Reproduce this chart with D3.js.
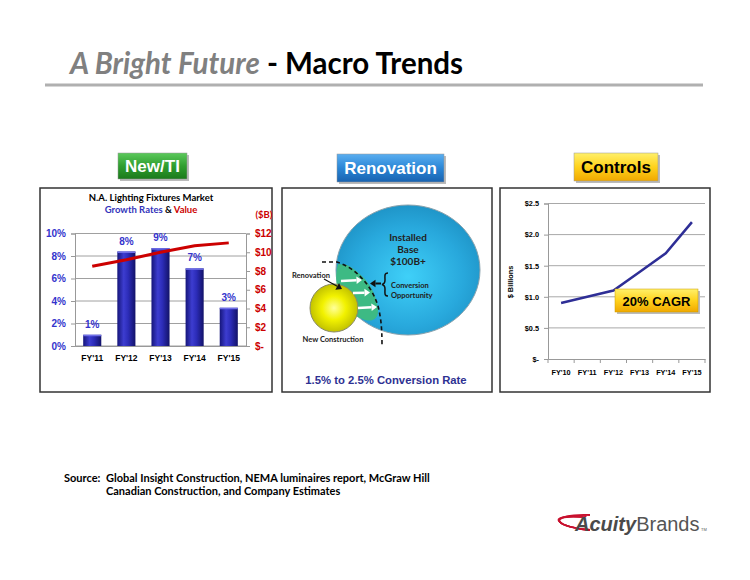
<!DOCTYPE html>
<html>
<head>
<meta charset="utf-8">
<script src="https://cdn.jsdelivr.net/npm/d3@7"></script>
<style>
  body { margin: 0; background: #fff; }
</style>
</head>
<body>
<div id="chart"></div>
<script>
// DATA ------------------------------
const fixYears = ["FY'11", "FY'12", "FY'13", "FY'14", "FY'15"];
const growthRates = [1.0, 8.4, 8.7, 6.9, 3.4];
const growthLabels = ["1%", "8%", "9%", "7%", "3%"];
const marketValue = [8.5, 9.2, 10.0, 10.7, 11.0];
const pctTicks = [0, 2, 4, 6, 8, 10];
const dollarTicks = [0, 2, 4, 6, 8, 10, 12];

const ctrlYears = ["FY'10", "FY'11", "FY'12", "FY'13", "FY'14", "FY'15"];
const ctrlValues = [0.9, 1.0, 1.1, 1.4, 1.7, 2.2];
const ctrlTicks = [0, 0.5, 1.0, 1.5, 2.0, 2.5];

const ARIAL = "'Liberation Sans', Arial, sans-serif";
const CALIBRI = "Lato, 'Open Sans', sans-serif";

const svg = d3.select('#chart').append('svg')
  .attr('width', 750).attr('height', 580)
  .style('background', '#fff');

const defs = svg.append('defs');

function linGrad(id, stops, x2, y2) {
  const g = defs.append('linearGradient').attr('id', id)
    .attr('x1', 0).attr('y1', 0).attr('x2', x2).attr('y2', y2);
  stops.forEach(s => g.append('stop').attr('offset', s[0]).attr('stop-color', s[1]));
}
function radGrad(id, stops, cx, cy) {
  const g = defs.append('radialGradient').attr('id', id)
    .attr('cx', cx || 0.5).attr('cy', cy || 0.5).attr('r', 0.55);
  stops.forEach(s => g.append('stop').attr('offset', s[0]).attr('stop-color', s[1]));
}
linGrad('gGreen', [[0, '#5cc95c'], [0.5, '#2f9e2f'], [1, '#1b7a1b']], 0, 1);
linGrad('gBlue', [[0, '#5aaef0'], [0.5, '#2a86d6'], [1, '#1862b0']], 0, 1);
linGrad('gYellow', [[0, '#fff06a'], [0.5, '#ffd21c'], [1, '#f0a800']], 0, 1);
linGrad('gBar', [[0, '#15157a'], [0.35, '#3d3dd0'], [0.6, '#2c2cb8'], [1, '#121268']], 1, 0);
radGrad('gBig', [[0, '#3fd0f8'], [0.7, '#28a8dc'], [1, '#1f95c8']], 0.5, 0.55);
radGrad('gSmall', [[0, '#ffff9a'], [0.45, '#f2f200'], [1, '#b8b800']], 0.5, 0.5);

// TITLE -----------------------------
const title = svg.append('text').attr('x', 70).attr('y', 74)
  .style('font-family', CALIBRI).style('font-size', '29.5px').style('font-weight', 700);
title.append('tspan').text('A Bright Future').style('font-style', 'italic').attr('fill', '#808080');
title.append('tspan').text(' - Macro Trends').attr('fill', '#000');
svg.append('line').attr('x1', 45).attr('x2', 703).attr('y1', 85).attr('y2', 85)
  .attr('stroke', '#b0b0b0').attr('stroke-width', 3);

// BUTTONS & PANELS ------------------
function button(x, y, w, h, fill, label, color) {
  svg.append('rect').attr('x', x + 2).attr('y', y + 2).attr('width', w).attr('height', h)
    .attr('fill', '#bbb');
  svg.append('rect').attr('x', x).attr('y', y).attr('width', w).attr('height', h)
    .attr('fill', `url(#${fill})`).attr('stroke', '#999').attr('stroke-width', 0.5);
  svg.append('text').attr('x', x + w / 2).attr('y', y + h / 2 + 6)
    .attr('text-anchor', 'middle').attr('fill', color)
    .style('font-family', ARIAL).style('font-weight', 700).style('font-size', '17px')
    .text(label);
}
button(118, 153, 69, 26, 'gGreen', 'New/TI', '#fff');
button(337, 154, 107, 28, 'gBlue', 'Renovation', '#fff');
button(574, 153, 84, 28, 'gYellow', 'Controls', '#000');

[[40, 188, 232, 204], [282, 188, 210, 204], [500, 188, 210, 204]].forEach(b => {
  svg.append('rect').attr('x', b[0]).attr('y', b[1]).attr('width', b[2]).attr('height', b[3])
    .attr('fill', '#fff').attr('stroke', '#333').attr('stroke-width', 1.5);
});

// CHART 1: N.A. Lighting Fixtures ---
const c1 = svg.append('g');
const x1 = d3.scaleBand().domain(fixYears).range([75, 246]).paddingInner(0.47).paddingOuter(0.24);
const yPct = d3.scaleLinear().domain([0, 10]).range([346, 233.5]);
const yVal = d3.scaleLinear().domain([0, 12]).range([346, 233.5]);

c1.append('text').attr('x', 151).attr('y', 201).attr('text-anchor', 'middle')
  .style('font-family', CALIBRI).style('font-weight', 700).style('font-size', '9.5px')
  .text('N.A. Lighting Fixtures Market');
const sub = c1.append('text').attr('x', 151).attr('y', 213).attr('text-anchor', 'middle')
  .style('font-family', CALIBRI).style('font-weight', 700).style('font-size', '9.5px');
sub.append('tspan').text('Growth Rates').attr('fill', '#3333bb');
sub.append('tspan').text(' & ').attr('fill', '#000');
sub.append('tspan').text('Value').attr('fill', '#cc0000');
c1.append('text').attr('x', 264).attr('y', 218).attr('text-anchor', 'middle')
  .attr('fill', '#cc0000')
  .style('font-family', CALIBRI).style('font-weight', 700).style('font-size', '9.5px')
  .text('($B)');

c1.selectAll('.grid').data(pctTicks).enter().append('line')
  .attr('x1', 75).attr('x2', 246)
  .attr('y1', d => yPct(d)).attr('y2', d => yPct(d))
  .attr('stroke', '#a0a0a0').attr('stroke-width', 1);

const axL = c1.append('g').attr('transform', 'translate(75,0)')
  .call(d3.axisLeft(yPct).tickValues(pctTicks).tickSize(4).tickFormat(d => d + '%'));
const axR = c1.append('g').attr('transform', 'translate(246,0)')
  .call(d3.axisRight(yVal).tickValues(dollarTicks).tickSize(4).tickFormat(d => d === 0 ? '$-' : '$' + d));
[axL, axR].forEach(a => {
  a.selectAll('path, line').attr('stroke', '#999');
  a.selectAll('text').style('font-family', ARIAL).style('font-weight', 700).style('font-size', '10px');
});
axL.selectAll('text').attr('fill', '#3333cc').attr('x', -9);
axR.selectAll('text').attr('fill', '#cc0000').attr('x', 9);

c1.selectAll('.bar').data(growthRates).enter().append('rect')
  .attr('x', (d, i) => x1(fixYears[i]))
  .attr('y', d => yPct(d))
  .attr('width', x1.bandwidth())
  .attr('height', d => yPct(0) - yPct(d))
  .attr('fill', 'url(#gBar)');
c1.selectAll('.bartop').data(growthRates).enter().append('rect')
  .attr('x', (d, i) => x1(fixYears[i]))
  .attr('y', d => yPct(d))
  .attr('width', x1.bandwidth()).attr('height', 1.5)
  .attr('fill', '#6f6fe8');

const ax1B = c1.append('g').attr('transform', 'translate(0,346)')
  .call(d3.axisBottom(x1).tickSize(0).tickPadding(9));
ax1B.select('.domain').attr('stroke', '#999');
ax1B.selectAll('text').style('font-family', ARIAL).style('font-weight', 700)
  .style('font-size', '8.5px').attr('fill', '#000');

c1.append('path').datum(marketValue)
  .attr('d', d3.line().x((d, i) => x1(fixYears[i]) + x1.bandwidth() / 2).y(d => yVal(d)))
  .attr('fill', 'none').attr('stroke', '#cc0000').attr('stroke-width', 3);

c1.selectAll('.blabel').data(growthRates).enter().append('text')
  .attr('x', (d, i) => x1(fixYears[i]) + x1.bandwidth() / 2)
  .attr('y', d => yPct(d) - 7)
  .attr('text-anchor', 'middle').attr('fill', '#3333cc')
  .style('font-family', ARIAL).style('font-weight', 700).style('font-size', '10px')
  .text((d, i) => growthLabels[i]);

// PANEL 2: Renovation diagram -------
const c2 = svg.append('g');
c2.append('ellipse').attr('cx', 408).attr('cy', 270).attr('rx', 72).attr('ry', 65)
  .attr('fill', 'url(#gBig)').attr('stroke', '#8aa2ad').attr('stroke-width', 1);
c2.append('path')
  .attr('d', 'M338,264 C333,282 338,308 360,318 C370,323 379,321 378,309 C376,292 367,276 347,265 Z')
  .attr('fill', '#3dba84');
c2.append('circle').attr('cx', 334).attr('cy', 308).attr('r', 24)
  .attr('fill', 'url(#gSmall)').attr('stroke', '#8a8a6a').attr('stroke-width', 1);
c2.append('path')
  .attr('d', 'M322,262 L337,262 C356,268 372,286 378,306 C381,318 382,328 382,345')
  .attr('fill', 'none').attr('stroke', '#111').attr('stroke-width', 1.6)
  .attr('stroke-dasharray', '4,3');

function arrow(g, x1p, y1p, x2p, y2p, color, w) {
  const ang = Math.atan2(y2p - y1p, x2p - x1p);
  const hl = 5.5, hw = 3.8;
  const bx = x2p - hl * Math.cos(ang), by = y2p - hl * Math.sin(ang);
  g.append('line').attr('x1', x1p).attr('y1', y1p).attr('x2', bx).attr('y2', by)
    .attr('stroke', color).attr('stroke-width', w);
  g.append('path').attr('d', `M${x2p},${y2p} L${bx - hw * Math.sin(ang)},${by + hw * Math.cos(ang)} L${bx + hw * Math.sin(ang)},${by - hw * Math.cos(ang)} Z`)
    .attr('fill', color);
}
arrow(c2, 341, 281, 362, 280, '#fff', 2.5);
arrow(c2, 353, 293, 370, 292.5, '#fff', 2.5);
arrow(c2, 358, 308, 377, 307, '#fff', 2.5);
arrow(c2, 381, 283.5, 370, 283.5, '#111', 2);
arrow(c2, 324, 279, 342, 289, '#111', 1.2);

c2.append('path')
  .attr('d', 'M388,273 C384,273 385,276 385,280 C385,283 384,284 382,284.5 C384,285 385,286 385,289 C385,293 384,296 388,296')
  .attr('fill', 'none').attr('stroke', '#111').attr('stroke-width', 1.5);

const smallTxt = (g, x, y, t, size, anchor) => g.append('text').attr('x', x).attr('y', y)
  .attr('text-anchor', anchor || 'middle').attr('fill', '#222')
  .style('font-family', CALIBRI).style('font-weight', 700).style('font-size', size + 'px').text(t);
smallTxt(c2, 408, 241, 'Installed', 10);
smallTxt(c2, 408, 253, 'Base', 10);
smallTxt(c2, 408, 265, '$100B+', 10);
smallTxt(c2, 391, 288, 'Conversion', 7.5, 'start');
smallTxt(c2, 391, 297.5, 'Opportunity', 7.5, 'start');
smallTxt(c2, 311, 278, 'Renovation', 7.5);
smallTxt(c2, 333, 342, 'New Construction', 7.5);
c2.append('text').attr('x', 386).attr('y', 384).attr('text-anchor', 'middle')
  .attr('fill', '#2e3192')
  .style('font-family', ARIAL).style('font-weight', 700).style('font-size', '11.3px')
  .text('1.5% to 2.5% Conversion Rate');

// CHART 3: Controls -----------------
const c3 = svg.append('g');
const x3 = d3.scaleBand().domain(ctrlYears).range([548, 705]);
const y3 = d3.scaleLinear().domain([0, 2.5]).range([359, 203.5]);

c3.selectAll('.grid').data(ctrlTicks.slice(1)).enter().append('line')
  .attr('x1', 548).attr('x2', 705)
  .attr('y1', d => y3(d)).attr('y2', d => y3(d))
  .attr('stroke', '#a8a8a8').attr('stroke-width', 1);

const ax3L = c3.append('g').attr('transform', 'translate(548,0)')
  .call(d3.axisLeft(y3).tickValues(ctrlTicks).tickSize(4)
    .tickFormat(d => d === 0 ? '$-' : '$' + d.toFixed(1)));
const ax3B = c3.append('g').attr('transform', 'translate(0,359)')
  .call(d3.axisBottom(x3).tickSize(0).tickPadding(11));
ax3B.selectAll('.xb').data(d3.range(ctrlYears.length + 1)).enter().append('line')
  .attr('x1', d => 548 + d * x3.step()).attr('x2', d => 548 + d * x3.step())
  .attr('y1', 0).attr('y2', 4).attr('stroke', '#999');
[ax3L, ax3B].forEach(a => {
  a.selectAll('path, line').attr('stroke', '#999');
  a.selectAll('text').style('font-family', ARIAL).style('font-weight', 700)
    .style('font-size', '7.3px').attr('fill', '#000');
});
ax3L.selectAll('text').attr('x', -9);

c3.append('text').attr('transform', 'translate(513,282) rotate(-90)')
  .attr('text-anchor', 'middle')
  .style('font-family', ARIAL).style('font-weight', 700).style('font-size', '7.3px')
  .text('$ Billions');

c3.append('path').datum(ctrlValues)
  .attr('d', d3.line().x((d, i) => x3(ctrlYears[i]) + x3.bandwidth() / 2).y(d => y3(d)))
  .attr('fill', 'none').attr('stroke', '#2e2e96').attr('stroke-width', 2.5);

c3.append('rect').attr('x', 617).attr('y', 291).attr('width', 83).attr('height', 23).attr('fill', '#bbb');
c3.append('rect').attr('x', 615).attr('y', 289).attr('width', 83).attr('height', 23)
  .attr('fill', 'url(#gYellow)').attr('stroke', '#c99a00').attr('stroke-width', 0.5);
c3.append('text').attr('x', 656.5).attr('y', 305.5).attr('text-anchor', 'middle')
  .style('font-family', ARIAL).style('font-weight', 700).style('font-size', '13px')
  .text('20% CAGR');

// SOURCE ----------------------------
const srcStyle = t => t.style('font-family', CALIBRI).style('font-weight', 700)
  .style('font-size', '11px').attr('fill', '#000');
srcStyle(svg.append('text').attr('x', 64).attr('y', 482).text('Source:'));
srcStyle(svg.append('text').attr('x', 106).attr('y', 482)
  .text('Global Insight Construction, NEMA luminaires report, McGraw Hill'));
srcStyle(svg.append('text').attr('x', 106).attr('y', 495)
  .text('Canadian Construction, and Company Estimates'));

// LOGO ------------------------------
const logo = svg.append('g');
[0, 3.5, 7].forEach(s => {
  logo.append('path')
    .attr('d', `M${590 - s},${515 + s * 0.3} C${570 - s},${514 + s * 0.3} ${556 - s * 0.2},518 560,522 C562,525 575,529 590,530`)
    .attr('fill', 'none').attr('stroke', '#c8102e').attr('stroke-width', 1.8);
});
const lt = logo.append('text').attr('x', 575).attr('y', 531)
  .style('font-family', ARIAL).style('font-size', '20px').attr('fill', '#4a4a4a');
lt.append('tspan').text('Acuity').style('font-weight', 700).style('font-style', 'italic');
lt.append('tspan').text('Brands').style('font-weight', 400).attr('fill', '#555');
logo.append('text').attr('x', 701).attr('y', 531).style('font-family', ARIAL)
  .style('font-size', '4px').attr('fill', '#555').text('TM');
</script>
</body>
</html>
